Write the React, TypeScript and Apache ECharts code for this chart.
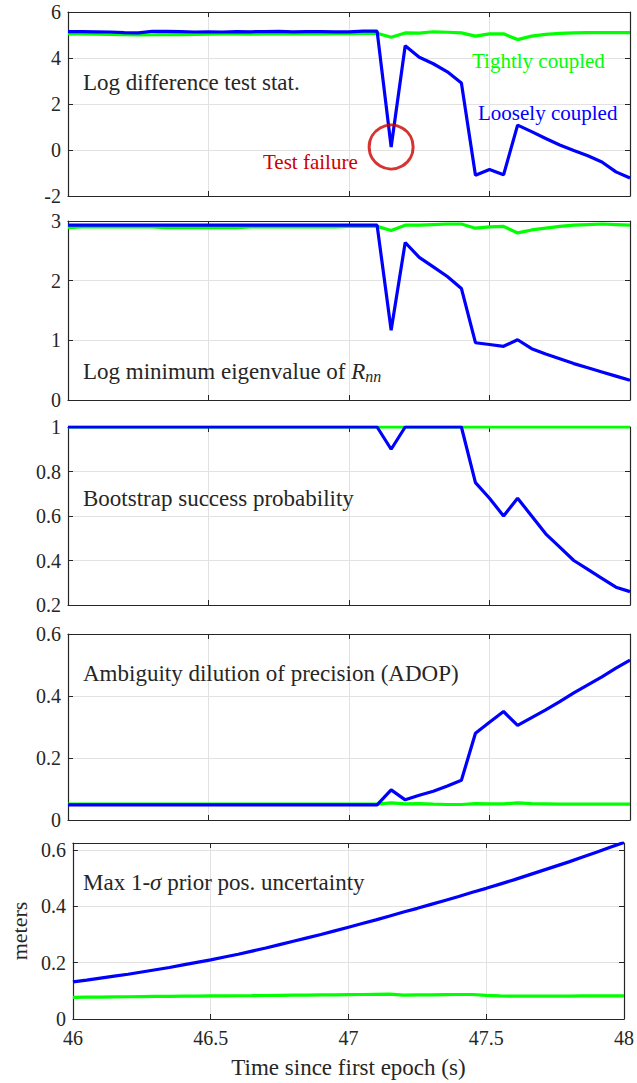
import React, { useEffect, useRef } from "react";
import * as echarts from "echarts";

// Sample times (s), 0.05 s apart
const time = [
  46.0, 46.05, 46.1, 46.15, 46.2, 46.25, 46.3, 46.35, 46.4, 46.45,
  46.5, 46.55, 46.6, 46.65, 46.7, 46.75, 46.8, 46.85, 46.9, 46.95,
  47.0, 47.05, 47.1, 47.15, 47.2, 47.25, 47.3, 47.35, 47.4, 47.45,
  47.5, 47.55, 47.6, 47.65, 47.7, 47.75, 47.8, 47.85, 47.9, 47.95, 48.0,
];

// Log difference test statistic
const logDiffLoose = [
  5.15, 5.15, 5.14, 5.13, 5.1, 5.09, 5.16, 5.16, 5.15, 5.13,
  5.14, 5.13, 5.15, 5.14, 5.15, 5.16, 5.14, 5.15, 5.15, 5.14,
  5.14, 5.17, 5.17, 0.13, 4.53, 4.03, 3.75, 3.4, 2.91, -1.1,
  -0.85, -1.08, 1.08, 0.8, 0.5, 0.22, -0.02, -0.25, -0.52, -0.95, -1.22,
];
const logDiffTight = [
  5.05, 5.05, 5.04, 5.03, 5.02, 5.0, 5.01, 5.03, 5.02, 5.03,
  5.04, 5.05, 5.05, 5.04, 5.05, 5.05, 5.05, 5.05, 5.05, 5.06,
  5.06, 5.07, 5.08, 4.9, 5.09, 5.08, 5.14, 5.12, 5.09, 4.95,
  5.05, 5.05, 4.8, 4.95, 5.03, 5.07, 5.09, 5.1, 5.1, 5.1, 5.1,
];

// Log minimum eigenvalue of R_nn
const minEigLoose = [
  2.93, 2.93, 2.93, 2.93, 2.93, 2.93, 2.93, 2.93, 2.93, 2.93,
  2.93, 2.93, 2.93, 2.93, 2.93, 2.93, 2.93, 2.93, 2.93, 2.93,
  2.93, 2.93, 2.93, 1.17, 2.64, 2.39, 2.23, 2.07, 1.87, 0.96,
  0.93, 0.9, 1.01, 0.86, 0.77, 0.69, 0.61, 0.54, 0.47, 0.4, 0.33,
];
const minEigTight = [
  2.89, 2.9, 2.9, 2.9, 2.9, 2.9, 2.9, 2.89, 2.89, 2.89,
  2.89, 2.89, 2.89, 2.9, 2.9, 2.9, 2.9, 2.9, 2.9, 2.9,
  2.91, 2.91, 2.91, 2.84, 2.93, 2.93, 2.94, 2.95, 2.95, 2.88,
  2.9, 2.91, 2.8, 2.85, 2.88, 2.91, 2.93, 2.94, 2.95, 2.94, 2.93,
];

// Bootstrap success probability
const bootLoose = [
  1, 1, 1, 1, 1, 1, 1, 1, 1, 1,
  1, 1, 1, 1, 1, 1, 1, 1, 1, 1,
  1, 1, 1, 0.9, 1, 1, 1, 1, 1, 0.75,
  0.68, 0.6, 0.68, 0.6, 0.52, 0.46, 0.4, 0.36, 0.32, 0.28, 0.26,
];
const bootTight = [
  1, 1, 1, 1, 1, 1, 1, 1, 1, 1,
  1, 1, 1, 1, 1, 1, 1, 1, 1, 1,
  1, 1, 1, 1, 1, 1, 1, 1, 1, 1,
  1, 1, 1, 1, 1, 1, 1, 1, 1, 1, 1,
];

// Ambiguity dilution of precision
const adopLoose = [
  0.049, 0.049, 0.049, 0.049, 0.049, 0.049, 0.049, 0.049, 0.049, 0.049,
  0.049, 0.049, 0.049, 0.049, 0.049, 0.049, 0.049, 0.049, 0.049, 0.049,
  0.049, 0.049, 0.049, 0.097, 0.065, 0.08, 0.093, 0.11, 0.128, 0.28,
  0.315, 0.35, 0.305, 0.33, 0.355, 0.382, 0.41, 0.436, 0.462, 0.49, 0.516,
];
const adopTight = [
  0.051, 0.051, 0.051, 0.051, 0.051, 0.051, 0.051, 0.051, 0.051, 0.051,
  0.051, 0.051, 0.051, 0.051, 0.051, 0.051, 0.051, 0.051, 0.051, 0.051,
  0.051, 0.051, 0.051, 0.055, 0.052, 0.053, 0.051, 0.05, 0.05, 0.053,
  0.052, 0.052, 0.055, 0.053, 0.052, 0.051, 0.051, 0.051, 0.051, 0.051, 0.051,
];

// Max 1-sigma prior position uncertainty (m)
const sigmaLoose = [
  0.132, 0.138, 0.145, 0.152, 0.159, 0.167, 0.175, 0.183, 0.192, 0.201,
  0.21, 0.22, 0.23, 0.241, 0.252, 0.264, 0.276, 0.288, 0.3, 0.313,
  0.326, 0.339, 0.352, 0.366, 0.38, 0.393, 0.407, 0.421, 0.435, 0.45,
  0.464, 0.479, 0.494, 0.51, 0.526, 0.542, 0.558, 0.575, 0.592, 0.61, 0.627,
];
const sigmaTight = [
  0.077, 0.0775, 0.078, 0.0785, 0.079, 0.0795, 0.08, 0.0805, 0.081, 0.0815,
  0.082, 0.0823, 0.0826, 0.083, 0.0835, 0.084, 0.0845, 0.085, 0.0855, 0.086,
  0.0865, 0.087, 0.0875, 0.088, 0.085, 0.0855, 0.086, 0.0865, 0.087, 0.087,
  0.084, 0.082, 0.081, 0.081, 0.081, 0.0815, 0.0815, 0.082, 0.082, 0.082, 0.082,
];

// Index of the epoch where the loosely coupled test fails
const failureIndex = 23;

const FONT = "Liberation Serif";
const AXIS = "#262626";
const GRIDLINE = "#e2e2e2";
const BLUE = "#0000ff";
const GREEN = "#00ff00";
const RED = "#cc0000";

const panels = [
  { top: 12, height: 184, min: -2, max: 6, interval: 2, loose: logDiffLoose, tight: logDiffTight },
  { top: 221, height: 179, min: 0, max: 3, interval: 1, loose: minEigLoose, tight: minEigTight },
  { top: 427, height: 178, min: 0.2, max: 1, interval: 0.2, loose: bootLoose, tight: bootTight },
  { top: 634, height: 186, min: 0, max: 0.6, interval: 0.2, loose: adopLoose, tight: adopTight },
  { top: 843, height: 176, min: 0, max: 0.625, interval: 0.2, loose: sigmaLoose, tight: sigmaTight },
];

const LEFT = 68;
const WIDTH = 562;
const NOTE_SIZE = 23;
const LABEL_SIZE = 21;

function pairs(values: number[]) {
  return time.map((t, i) => [t, values[i]]);
}

export default function App() {
  const ref = useRef<HTMLDivElement>(null);

  useEffect(() => {
    if (!ref.current) return;
    const chart = echarts.init(ref.current, undefined, { renderer: "svg" });

    const grid: any[] = [];
    const xAxis: any[] = [];
    const yAxis: any[] = [];
    const series: any[] = [];
    const last = panels.length - 1;

    panels.forEach((p, i) => {
      grid.push({ left: LEFT, width: WIDTH, top: p.top, height: p.height, containLabel: false });

      const tick = { show: true, inside: true, length: 5, lineStyle: { color: AXIS, width: 1 } };
      const line = { show: true, onZero: false, lineStyle: { color: AXIS, width: 1.2 } };

      xAxis.push({
        type: "value",
        gridIndex: i,
        min: 46,
        max: 48,
        interval: 0.5,
        position: "bottom",
        axisLine: line,
        axisTick: tick,
        axisLabel: {
          show: i === last,
          color: AXIS,
          fontFamily: FONT,
          fontSize: 20,
          margin: 9,
        },
        splitLine: { show: true, lineStyle: { color: GRIDLINE, width: 1 } },
        name: i === last ? "Time since first epoch (s)" : "",
        nameLocation: "middle",
        nameGap: 37,
        nameTextStyle: { color: AXIS, fontFamily: FONT, fontSize: 23 },
      });
      xAxis.push({
        type: "value",
        gridIndex: i,
        min: 46,
        max: 48,
        interval: 0.5,
        position: "top",
        axisLine: line,
        axisTick: tick,
        axisLabel: { show: false },
        splitLine: { show: false },
      });

      yAxis.push({
        type: "value",
        gridIndex: i,
        min: p.min,
        max: p.max,
        interval: p.interval,
        position: "left",
        axisLine: line,
        axisTick: tick,
        axisLabel: {
          color: AXIS,
          fontFamily: FONT,
          fontSize: 20,
          margin: 7,
          showMaxLabel: i !== last,
        },
        splitLine: { show: true, lineStyle: { color: GRIDLINE, width: 1 } },
        name: i === last ? "meters" : "",
        nameLocation: "middle",
        nameGap: 40,
        nameRotate: 90,
        nameTextStyle: { color: AXIS, fontFamily: FONT, fontSize: 22 },
      });
      yAxis.push({
        type: "value",
        gridIndex: i,
        min: p.min,
        max: p.max,
        interval: p.interval,
        position: "right",
        axisLine: line,
        axisTick: tick,
        axisLabel: { show: false },
        splitLine: { show: false },
      });

      series.push({
        type: "line",
        name: "Tightly coupled",
        xAxisIndex: i * 2,
        yAxisIndex: i * 2,
        data: pairs(p.tight),
        showSymbol: false,
        lineStyle: { color: GREEN, width: 3.2 },
        itemStyle: { color: GREEN },
        z: 2,
      });
      series.push({
        type: "line",
        name: "Loosely coupled",
        xAxisIndex: i * 2,
        yAxisIndex: i * 2,
        data: pairs(p.loose),
        showSymbol: false,
        lineStyle: { color: BLUE, width: 3.2 },
        itemStyle: { color: BLUE },
        z: 3,
      });
    });

    // Circle around the failed test epoch
    series.push({
      type: "scatter",
      xAxisIndex: 0,
      yAxisIndex: 0,
      data: [[time[failureIndex], logDiffLoose[failureIndex]]],
      symbol: "circle",
      symbolSize: 44,
      itemStyle: { color: "rgba(0,0,0,0)", borderColor: RED, borderWidth: 3 },
      z: 4,
      silent: true,
    });

    const txt = (x: number, y: number, text: string, color = AXIS, size = NOTE_SIZE) => ({
      type: "text",
      x,
      y,
      style: {
        text,
        fill: color,
        fontFamily: FONT,
        fontSize: size,
        verticalAlign: "middle",
      },
      z: 10,
    });

    const graphic = [
      txt(83, 82, "Log difference test stat."),
      txt(472, 61, "Tightly coupled", GREEN, LABEL_SIZE),
      txt(478, 113, "Loosely coupled", BLUE, LABEL_SIZE),
      txt(263, 162, "Test failure", RED, LABEL_SIZE),
      {
        type: "text",
        x: 83,
        y: 371,
        style: {
          text: "Log minimum eigenvalue of {r|R}{s|nn}",
          fill: AXIS,
          fontFamily: FONT,
          fontSize: NOTE_SIZE,
          verticalAlign: "middle",
          rich: {
            r: { fontFamily: FONT, fontSize: NOTE_SIZE, fontStyle: "italic", fill: AXIS },
            s: { fontFamily: FONT, fontSize: 16, fontStyle: "italic", fill: AXIS, padding: [11, 0, 0, 0] },
          },
        },
        z: 10,
      },
      txt(83, 498, "Bootstrap success probability"),
      txt(83, 673, "Ambiguity dilution of precision (ADOP)"),
      {
        type: "text",
        x: 83,
        y: 882,
        style: {
          text: "Max 1-{i|σ} prior pos. uncertainty",
          fill: AXIS,
          fontFamily: FONT,
          fontSize: NOTE_SIZE,
          verticalAlign: "middle",
          rich: {
            i: { fontFamily: FONT, fontSize: NOTE_SIZE, fontStyle: "italic", fill: AXIS },
          },
        },
        z: 10,
      },
    ];

    chart.setOption({
      animation: false,
      backgroundColor: "#ffffff",
      textStyle: { fontFamily: FONT },
      grid,
      xAxis,
      yAxis,
      series,
      graphic,
    });

    return () => chart.dispose();
  }, []);

  return (
    <div
      ref={ref}
      style={{ position: "absolute", left: 0, top: 0, width: 637, height: 1083 }}
    />
  );
}
